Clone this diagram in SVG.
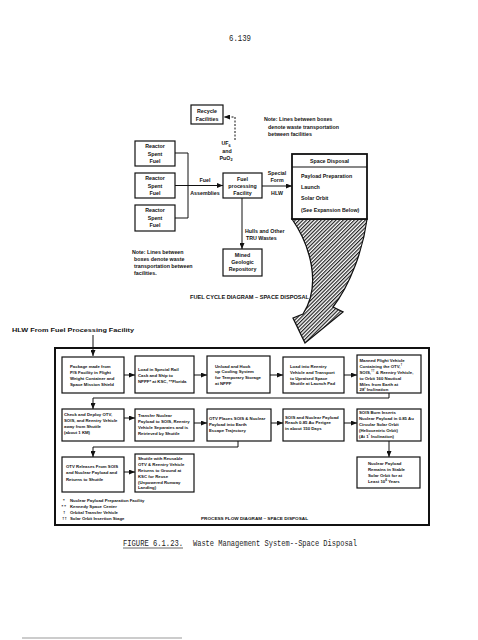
<svg xmlns="http://www.w3.org/2000/svg" width="478" height="640" viewBox="0 0 478 640">
<defs>
<style>
.t{font-family:"Liberation Sans",Arial,sans-serif;font-weight:bold;fill:#111}
.m{font-size:5.3px}
.s{font-size:4.3px}
.c{text-anchor:middle}
.mono{font-family:"Liberation Mono","DejaVu Sans Mono",monospace;font-size:9px;fill:#222}
.box{fill:#fff;stroke:#111;stroke-width:1.2}
.ln{fill:none;stroke:#111;stroke-width:1}
</style>
<marker id="ah" markerUnits="userSpaceOnUse" markerWidth="6" markerHeight="5" refX="6" refY="2.5" orient="auto">
<path d="M0,0 L6,2.5 L0,5 z" fill="#111"/>
</marker>
<pattern id="hatch" width="2.6" height="2.6" patternUnits="userSpaceOnUse" patternTransform="rotate(45)">
<rect width="2.6" height="2.6" fill="#fff"/>
<line x1="0.6" y1="0" x2="0.6" y2="2.6" stroke="#222" stroke-width="1.2"/>
</pattern>
</defs>
<rect width="478" height="640" fill="#fff"/>

<text class="mono" x="229" y="41" textLength="22" lengthAdjust="spacingAndGlyphs">6.139</text>

<!-- connectors -->
<g id="connectors">
<path class="ln" d="M235,140 V117 H224" stroke-dasharray="2,1.5" marker-end="url(#ah)"/>
<path class="ln" d="M175,153 H188 V218 H175 M175,185.5 H188"/>
<path class="ln" d="M188,185.5 H223" marker-end="url(#ah)"/>
<path class="ln" d="M262,186 H292" marker-end="url(#ah)"/>
<path class="ln" d="M242,198 V249" marker-end="url(#ah)"/>
<path d="M292,219 L367,219 C363,250 350,285 333,307 L343,312 L305,343 L293,318 L303,314 C322,285 310,245 292,219 Z" fill="url(#hatch)" stroke="#111" stroke-width="1.3"/>
<path class="ln" d="M93,335 V356" marker-end="url(#ah)"/>
<path class="ln" d="M124,375 H135" marker-end="url(#ah)"/>
<path class="ln" d="M194,375 H207" marker-end="url(#ah)"/>
<path class="ln" d="M270,375 H283" marker-end="url(#ah)"/>
<path class="ln" d="M344,375 H357" marker-end="url(#ah)"/>
<path class="ln" d="M389,393 V398 H93 V409" marker-end="url(#ah)"/>
<path class="ln" d="M124,418 H135" marker-end="url(#ah)"/>
<path class="ln" d="M194,423 H207" marker-end="url(#ah)"/>
<path class="ln" d="M271,423 H283" marker-end="url(#ah)"/>
<path class="ln" d="M344,423 H357" marker-end="url(#ah)"/>
<path class="ln" d="M238,441 V447 H93 V457" marker-end="url(#ah)"/>
<path class="ln" d="M124,472 H135" marker-end="url(#ah)"/>
<path class="ln" d="M389,441 V457" marker-end="url(#ah)"/>
</g>

<!-- top section -->
<g id="recycle">
<rect class="box" x="191" y="105" width="32" height="19"/>
<text class="t m c" x="207" y="113">Recycle</text>
<text class="t m c" x="207" y="120.5">Facilities</text>
</g>
<g id="uf6label">
<text class="t m c" x="226" y="145">UF<tspan dy="1.5" font-size="3.8">6</tspan></text>
<text class="t m c" x="227" y="152.5">and</text>
<text class="t m c" x="226" y="159.5">PuO<tspan dy="1.5" font-size="3.8">2</tspan></text>
</g>
<g id="note1">
<text class="t m" x="264" y="121">Note:  Lines between boxes</text>
<text class="t m" x="268" y="128.5">denote waste transportation</text>
<text class="t m" x="268" y="136">between facilities</text>
</g>
<g id="reactor1">
<rect class="box" x="135" y="141" width="40" height="25"/>
<text class="t m c" x="155" y="148">Reactor</text>
<text class="t m c" x="155" y="155.5">Spent</text>
<text class="t m c" x="155" y="163">Fuel</text>
</g>
<g id="reactor2">
<rect class="box" x="135" y="173" width="40" height="25"/>
<text class="t m c" x="155" y="180">Reactor</text>
<text class="t m c" x="155" y="187.5">Spent</text>
<text class="t m c" x="155" y="195">Fuel</text>
</g>
<g id="reactor3">
<rect class="box" x="135" y="205" width="40" height="26"/>
<text class="t m c" x="155" y="212">Reactor</text>
<text class="t m c" x="155" y="219.5">Spent</text>
<text class="t m c" x="155" y="227">Fuel</text>
</g>
<g id="fuellabels">
<text class="t m c" x="205" y="181.5">Fuel</text>
<text class="t m c" x="205" y="195">Assemblies</text>
</g>
<g id="fuelproc">
<rect class="box" x="223" y="173" width="39" height="25"/>
<text class="t m c" x="242.5" y="180.5">Fuel</text>
<text class="t m c" x="242.5" y="187.5">processing</text>
<text class="t m c" x="242.5" y="195">Facility</text>
</g>
<g id="hlwlabels">
<text class="t m c" x="277" y="175">Special</text>
<text class="t m c" x="277" y="182">Form</text>
<text class="t m c" x="277" y="195">HLW</text>
</g>
<g id="spacedisposal">
<rect x="292" y="154" width="75" height="65" fill="#fff" stroke="#111" stroke-width="1.8"/>
<line x1="292" y1="167" x2="367" y2="167" stroke="#111" stroke-width="1.2"/>
<text class="t m c" x="329.5" y="163">Space Disposal</text>
<text class="t m" x="301" y="178">Payload Preparation</text>
<text class="t m" x="301" y="189">Launch</text>
<text class="t m" x="301" y="200">Solar Orbit</text>
<text class="t m" x="301" y="212">(See Expansion Below)</text>
</g>
<g id="hulls">
<text class="t m" x="245" y="233">Hulls and Other</text>
<text class="t m" x="246" y="240">TRU Wastes</text>
</g>
<g id="mined">
<rect class="box" x="223" y="249" width="39" height="27"/>
<text class="t m c" x="242.5" y="257">Mined</text>
<text class="t m c" x="242.5" y="264">Geologic</text>
<text class="t m c" x="242.5" y="271">Repository</text>
</g>
<g id="note2">
<text class="t m" x="132" y="254">Note:  Lines between</text>
<text class="t m" x="134" y="261">boxes denote waste</text>
<text class="t m" x="134" y="268">transportation between</text>
<text class="t m" x="134" y="275">facilities.</text>
</g>
<text class="t m" x="190" y="299" textLength="119" lengthAdjust="spacingAndGlyphs">FUEL CYCLE DIAGRAM – SPACE DISPOSAL</text>

<!-- process flow -->
<text class="t" x="12" y="332" font-size="5.6" textLength="122" lengthAdjust="spacingAndGlyphs">HLW From Fuel Processing Facility</text>
<rect x="55" y="348" width="374" height="177" fill="none" stroke="#111" stroke-width="2"/>

<g id="p1">
<rect class="box" x="62" y="357" width="62" height="36"/>
<text class="t s" x="70" y="367.5">Package made from</text>
<text class="t s" x="70" y="373.7">P/S Facility in Flight</text>
<text class="t s" x="70" y="380">Weight Container and</text>
<text class="t s" x="70" y="386.2">Space Mission Shield</text>
</g>
<g id="p2">
<rect class="box" x="135" y="356" width="59" height="37"/>
<text class="t s" x="138" y="370.5">Load in Special Rail</text>
<text class="t s" x="138" y="376.5">Cask and Ship to</text>
<text class="t s" x="138" y="382.5">NPPF* at KSC, **Florida</text>
</g>
<g id="p3">
<rect class="box" x="207" y="356" width="63" height="37"/>
<text class="t s" x="215" y="367.5">Unload and Hook</text>
<text class="t s" x="215" y="373.3">up Cooling System</text>
<text class="t s" x="215" y="379.3">for Temporary Storage</text>
<text class="t s" x="215" y="385">at NPPF</text>
</g>
<g id="p4">
<rect class="box" x="283" y="357" width="61" height="36"/>
<text class="t s" x="290" y="367.5">Load into Reentry</text>
<text class="t s" x="290" y="373.5">Vehicle and Transport</text>
<text class="t s" x="290" y="379.5">to Upraised Space</text>
<text class="t s" x="290" y="385.2">Shuttle at Launch Pad</text>
</g>
<g id="p5">
<rect class="box" x="357" y="355" width="64" height="38"/>
<text class="t s" x="359.5" y="361.5">Manned Flight Vehicle</text>
<text class="t s" x="359.5" y="367.5">Containing the OTV,<tspan dy="-1.5" font-size="3.3">†</tspan></text>
<text class="t s" x="359.5" y="373.5">SOIS,<tspan dy="-1.5" font-size="3.3">††</tspan><tspan dy="1.5"> &amp; Reentry Vehicle,</tspan></text>
<text class="t s" x="359.5" y="379.5">to Orbit 160 Nautical</text>
<text class="t s" x="359.5" y="385.5">Miles from Earth at</text>
<text class="t s" x="359.5" y="391">28<tspan dy="-1.5" font-size="3.3">°</tspan><tspan dy="1.5">  Inclination</tspan></text>
</g>

<g id="q1">
<rect class="box" x="62" y="409" width="62" height="32"/>
<text class="t s" x="64" y="415.5">Check and Deploy OTV,</text>
<text class="t s" x="64" y="421.5">SOIS, and Reentry Vehicle</text>
<text class="t s" x="64" y="427.5">away from Shuttle</text>
<text class="t s" x="64" y="433.5">(about 1 KM)</text>
</g>
<g id="q2">
<rect class="box" x="135" y="409" width="59" height="32"/>
<text class="t s" x="138" y="416.5">Transfer Nuclear</text>
<text class="t s" x="138" y="422.5">Payload to SOIS, Reentry</text>
<text class="t s" x="138" y="428.5">Vehicle Separates and is</text>
<text class="t s" x="138" y="434.5">Retrieved by Shuttle</text>
</g>
<g id="q3">
<rect class="box" x="207" y="409" width="64" height="32"/>
<text class="t s" x="209" y="419.5">OTV Places SOIS &amp; Nuclear</text>
<text class="t s" x="209" y="425.5">Payload into Earth</text>
<text class="t s" x="209" y="431.5">Escape Trajectory</text>
</g>
<g id="q4">
<rect class="box" x="283" y="409" width="61" height="32"/>
<text class="t s" x="285" y="418.5">SOIS and Nuclear Payload</text>
<text class="t s" x="285" y="424">Reach 0.85 Au Perigee</text>
<text class="t s" x="285" y="430">in about 150 Days</text>
</g>
<g id="q5">
<rect class="box" x="357" y="409" width="64" height="32"/>
<text class="t s" x="359" y="413.8">SOIS Burn Inserts</text>
<text class="t s" x="359" y="419.7">Nuclear Payload in 0.85 Au</text>
<text class="t s" x="359" y="425.6">Circular Solar Orbit</text>
<text class="t s" x="359" y="431.5">(Heliocentric Orbit)</text>
<text class="t s" x="359" y="437.5">(At 1<tspan dy="-1.5" font-size="3.3">°</tspan><tspan dy="1.5">  Inclination)</tspan></text>
</g>

<g id="r1">
<rect class="box" x="62" y="457" width="62" height="35"/>
<text class="t s" x="66" y="467.5">OTV Releases From SOIS</text>
<text class="t s" x="66" y="474">and Nuclear Payload and</text>
<text class="t s" x="66" y="480.5">Returns to Shuttle</text>
</g>
<g id="r2">
<rect class="box" x="135" y="454" width="59" height="38"/>
<text class="t s" x="138" y="459.8">Shuttle with Reusable</text>
<text class="t s" x="138" y="465.8">OTV &amp; Reentry Vehicle</text>
<text class="t s" x="138" y="471.8">Returns to Ground at</text>
<text class="t s" x="138" y="477.6">KSC for Reuse</text>
<text class="t s" x="138" y="483.5">(Unpowered Runway</text>
<text class="t s" x="138" y="489.2">Landing)</text>
</g>
<g id="r3">
<rect class="box" x="357" y="457" width="63" height="31"/>
<text class="t s" x="368" y="464.5">Nuclear Payload</text>
<text class="t s" x="368" y="470.5">Remains in Stable</text>
<text class="t s" x="368" y="476.5">Solar Orbit for at</text>
<text class="t s" x="368" y="482.5">Least 10<tspan dy="-1.5" font-size="3.3">6</tspan><tspan dy="1.5"> Years</tspan></text>
</g>

<g id="footnotes">
<text class="t s" x="63" y="502">*</text><text class="t s" x="70" y="502">Nuclear Payload Preparation Facility</text>
<text class="t s" x="61.5" y="508">* *</text><text class="t s" x="70" y="508">Kennedy Space Center</text>
<text class="t s" x="63" y="514">†</text><text class="t s" x="70" y="514">Orbital Transfer Vehicle</text>
<text class="t s" x="62" y="520">††</text><text class="t s" x="70" y="520">Solar Orbit Insertion Stage</text>
</g>
<text class="t s" x="201" y="520" textLength="107" lengthAdjust="spacingAndGlyphs">PROCESS FLOW DIAGRAM – SPACE DISPOSAL</text>

<text class="mono" x="123" y="546" textLength="60" lengthAdjust="spacingAndGlyphs">FIGURE 6.1.23.</text>
<line x1="123" y1="548" x2="183" y2="548" stroke="#222" stroke-width="0.7"/>
<text class="mono" x="193" y="546" textLength="164" lengthAdjust="spacingAndGlyphs">Waste Management System--Space Disposal</text>
<line x1="22" y1="638" x2="182" y2="638" stroke="#999" stroke-width="1"/>
</svg>
